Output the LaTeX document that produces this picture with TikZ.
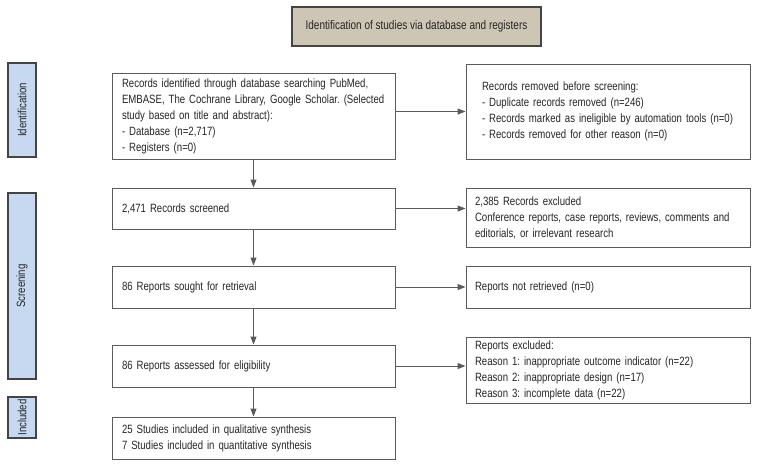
\documentclass[tikz,border=0pt]{standalone}
\usepackage{fontspec}
\setmainfont{Liberation Sans}[FakeStretch=0.80]
\usetikzlibrary{arrows.meta}
\frenchspacing

\definecolor{titlefill}{HTML}{CEC6B5}
\definecolor{phasefill}{HTML}{C6D9F1}
\definecolor{edgegray}{HTML}{5A5A5A}
\definecolor{darkedge}{HTML}{444444}

\begin{document}
\begin{tikzpicture}[x=1pt, y=-1pt,
    font=\fontsize{12}{16}\selectfont, text=black!85,
    flowbox/.style={draw=edgegray, line width=1pt, fill=white, align=left,
        inner xsep=10pt, inner ysep=2pt, text width=263pt, minimum height=#1},
    sidebox/.style={draw=edgegray, line width=1pt, fill=white, align=left,
        inner xsep=9pt, inner ysep=2pt, text width=266pt, minimum height=#1},
    phasebox/.style={draw=darkedge, line width=1.5pt, fill=phasefill,
        rotate=90, minimum width=#1, minimum height=28pt, inner sep=0pt},
    flowarrow/.style={draw=edgegray, line width=1pt,
        -{Triangle[length=8pt, width=6pt]}}]
    \useasboundingbox (0,0) rectangle (757,467);

    % title
    \node[draw=darkedge, line width=1.5pt, fill=titlefill, minimum width=249pt,
        minimum height=39pt, font=\fontsize{12.5}{14}\selectfont] (title) at (416.5,26.5)
        {Identification of studies via database and registers};

    % phases
    \node[phasebox=94pt] (ident) at (22,110) {Identification};
    \node[phasebox=186pt] (screen) at (22,286) {Screening};
    \node[phasebox=41pt] (incl) at (22,417.5) {Included};

    % main column
    \node[flowbox=86pt] (identified) at (253.5,116) {Records identified through database searching PubMed,\\
        EMBASE, The Cochrane Library, Google Scholar. (Selected\\
        study based on title and abstract):\\
        - Database (n=2,717)\\
        - Registers (n=0)};
    \node[flowbox=41pt] (screened) at (253.5,208.5) {2,471 Records screened};
    \node[flowbox=42pt] (sought) at (253.5,287) {86 Reports sought for retrieval};
    \node[flowbox=42pt] (assessed) at (253.5,366) {86 Reports assessed for eligibility};
    \node[flowbox=42pt] (included) at (253.5,438) {25 Studies included in qualitative synthesis\\
        7 Studies included in quantitative synthesis};

    % side column
    \node[sidebox=95pt, inner xsep=16pt, text width=252pt] (removed) at (608,111.5)
        {Records removed before screening:\\
        - Duplicate records removed (n=246)\\
        - Records marked as ineligible by automation tools (n=0)\\
        - Records removed for other reason (n=0)};
    \node[sidebox=59pt] (excluded) at (608,217.5) {2,385 Records excluded\\
        Conference reports, case reports, reviews, comments and\\
        editorials, or irrelevant research};
    \node[sidebox=42pt] (notretr) at (608,287) {Reports not retrieved (n=0)};
    \node[sidebox=66pt] (reasons) at (608,370) {Reports excluded:\\
        Reason 1: inappropriate outcome indicator (n=22)\\
        Reason 2: inappropriate design (n=17)\\
        Reason 3: incomplete data (n=22)};

    % arrows
    \draw[flowarrow] (identified) -- (screened);
    \draw[flowarrow] (screened) -- (sought);
    \draw[flowarrow] (sought) -- (assessed);
    \draw[flowarrow] (assessed) -- (included);
    \draw[flowarrow] (identified.east |- removed.west) -- (removed.west);
    \draw[flowarrow] (screened.east) -- (screened.east -| excluded.west);
    \draw[flowarrow] (sought) -- (notretr);
    \draw[flowarrow] (assessed.east) -- (assessed.east -| reasons.west);
\end{tikzpicture}
\end{document}
